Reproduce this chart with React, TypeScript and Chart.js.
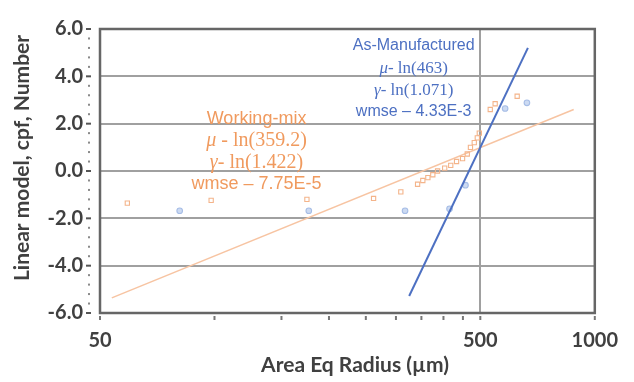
import React, { useEffect, useRef } from "react";
import { Chart, registerables } from "chart.js";

Chart.register(...registerables);

// ---------- data ----------
const xTickValues = [50, 100, 150, 200, 250, 300, 350, 400, 450, 500, 1000];
const xTickLabels = [50, 500, 1000];
const yTickValues = [-6, -4, -2, 0, 2, 4, 6];
const yMinorPerMajor = 5;

// Working-mix (orange squares)
const wmX = [59, 98, 175, 262, 309, 342, 353, 364, 375, 386, 403, 418, 433, 449, 462, 471, 482, 491, 497, 531, 547, 625];
const wmY = [-1.36, -1.24, -1.2, -1.16, -0.88, -0.56, -0.4, -0.28, -0.16, 0.0, 0.12, 0.24, 0.4, 0.52, 0.72, 1.0, 1.2, 1.4, 1.6, 2.6, 2.84, 3.16];
// Working-mix fit line end points
const wmFitX = [53.7, 880];
const wmFitY = [-5.36, 2.6];

// As-Manufactured (blue circles)
const amX = [81, 177, 317, 415, 457, 581, 663];
const amY = [-1.68, -1.68, -1.68, -1.6, -0.6, 2.64, 2.88];
// As-Manufactured fit line end points
const amFitX = [325, 667];
const amFitY = [-5.28, 5.2];

const xTitle = "Area Eq Radius (µm)";
const yTitle = "Linear model, cpf, Number";

const amText = [
  [{ t: "As-Manufactured", s: "sans" }],
  [{ t: "μ", s: "mathI" }, { t: "- ln(463)", s: "math" }],
  [{ t: "γ", s: "mathI" }, { t: "- ln(1.071)", s: "math" }],
  [{ t: "wmse – 4.33E-3", s: "sans" }],
];
const wmText = [
  [{ t: "Working-mix", s: "sans" }],
  [{ t: "μ", s: "mathI" }, { t: " - ln(359.2)", s: "math" }],
  [{ t: "γ", s: "mathI" }, { t: "- ln(1.422)", s: "math" }],
  [{ t: "wmse – 7.75E-5", s: "sans" }],
];

// ---------- styles ----------
const BLUE = "#4d70c2";
const ORANGE_TXT = "#f09a5e";
const AXIS_TXT = "#404040";
const GRID = "#a0a0a0";
const FRAME = "#666666";
const LABEL_FONT = "Lato";

const annotLayout = {
  am: { x: 334, ys: [5.28, 4.32, 3.4, 2.52], sans: 16, math: 17, color: BLUE },
  wm: { x: 129, ys: [2.2, 1.28, 0.36, -0.56], sans: 18, math: 20, color: ORANGE_TXT },
};

function fontFor(s: string, size: number) {
  if (s === "sans") return `${size}px 'Liberation Sans', Arial, sans-serif`;
  if (s === "mathI") return `italic ${size}px 'Liberation Serif', 'Times New Roman', serif`;
  return `${size}px 'Liberation Serif', 'Times New Roman', serif`;
}

function drawLines(ctx: CanvasRenderingContext2D, chart: any, lines: any[], lay: any) {
  const xs = chart.scales.x;
  const ys = chart.scales.y;
  const cx = xs.getPixelForValue(lay.x);
  ctx.fillStyle = lay.color;
  ctx.textBaseline = "middle";
  ctx.textAlign = "left";
  lines.forEach((parts: any[], i: number) => {
    const cy = ys.getPixelForValue(lay.ys[i]);
    let total = 0;
    const widths = parts.map((p) => {
      ctx.font = fontFor(p.s, p.s === "sans" ? lay.sans : lay.math);
      const w = ctx.measureText(p.t).width;
      total += w;
      return w;
    });
    let x = cx - total / 2;
    parts.forEach((p, j) => {
      ctx.font = fontFor(p.s, p.s === "sans" ? lay.sans : lay.math);
      ctx.fillText(p.t, x, cy);
      x += widths[j];
    });
  });
}

const decorPlugin = {
  id: "decor",
  beforeDatasetsDraw(chart: any) {
    const { ctx, chartArea: a } = chart;
    const ys = chart.scales.y;
    const xs = chart.scales.x;
    ctx.save();
    // grid lines
    ctx.strokeStyle = GRID;
    ctx.lineWidth = 2;
    yTickValues.forEach((v) => {
      if (v === -6 || v === 6) return;
      const y = Math.round(ys.getPixelForValue(v));
      ctx.beginPath();
      ctx.moveTo(a.left, y);
      ctx.lineTo(a.right, y);
      ctx.stroke();
    });
    const x500 = Math.round(xs.getPixelForValue(500));
    ctx.beginPath();
    ctx.moveTo(x500, a.top);
    ctx.lineTo(x500, a.bottom);
    ctx.stroke();
    // frame
    ctx.strokeStyle = FRAME;
    ctx.lineWidth = 2.5;
    ctx.strokeRect(a.left, a.top, a.right - a.left, a.bottom - a.top);
    // y tick marks (major dash, minor dots)
    for (let i = 0; i < yTickValues.length; i++) {
      const v = yTickValues[i];
      const y = ys.getPixelForValue(v);
      ctx.fillStyle = "#555";
      ctx.fillRect(a.left - 14, y - 1, 5, 2);
      if (i < yTickValues.length - 1) {
        const step = (yTickValues[i + 1] - v) / yMinorPerMajor;
        ctx.fillStyle = "#8a8a8a";
        for (let k = 1; k < yMinorPerMajor; k++) {
          const yy = ys.getPixelForValue(v + k * step);
          ctx.fillRect(a.left - 12, yy - 1, 2, 2);
        }
      }
    }
    // x tick marks
    ctx.fillStyle = "#777";
    xTickValues.forEach((v) => {
      const x = xs.getPixelForValue(v);
      ctx.fillRect(x - 1, a.bottom + 3, 2, 4);
    });
    ctx.restore();
  },
  afterDraw(chart: any) {
    const { ctx } = chart;
    ctx.save();
    drawLines(ctx, chart, amText, annotLayout.am);
    drawLines(ctx, chart, wmText, annotLayout.wm);
    // axis titles
    ctx.fillStyle = AXIS_TXT;
    ctx.font = `bold 21px ${LABEL_FONT}, sans-serif`;
    ctx.textAlign = "center";
    ctx.textBaseline = "middle";
    ctx.fillText(xTitle, 355, 365);
    ctx.translate(22, 158);
    ctx.rotate(-Math.PI / 2);
    ctx.fillText(yTitle, 0, 0);
    ctx.restore();
  },
};

export default function App() {
  const ref = useRef<HTMLCanvasElement>(null);
  useEffect(() => {
    document.body.style.margin = "0";
    const canvas = ref.current!;
    const chart = new Chart(canvas, {
      type: "scatter",
      data: {
        datasets: [
          {
            label: "As-Manufactured fit",
            data: amFitX.map((x, i) => ({ x, y: amFitY[i] })),
            showLine: true,
            borderColor: BLUE,
            borderWidth: 2,
            pointRadius: 0,
            order: 0,
          },
          {
            label: "Working-mix fit",
            data: wmFitX.map((x, i) => ({ x, y: wmFitY[i] })),
            showLine: true,
            borderColor: "#f7c4a2",
            borderWidth: 1.5,
            pointRadius: 0,
            order: 3,
          },
          {
            label: "Working-mix",
            data: wmX.map((x, i) => ({ x, y: wmY[i] })),
            pointStyle: "rect",
            pointRadius: 3,
            borderColor: "#f4b48a",
            backgroundColor: "rgba(255,255,255,0)",
            borderWidth: 1.1,
            order: 2,
          },
          {
            label: "As-Manufactured",
            data: amX.map((x, i) => ({ x, y: amY[i] })),
            pointStyle: "circle",
            pointRadius: 2.8,
            borderColor: "#a6bde6",
            backgroundColor: "#ccdaf2",
            borderWidth: 1.1,
            order: 1,
          },
        ],
      },
      options: {
        responsive: false,
        animation: false,
        events: [],
        layout: { padding: { top: 13, right: 34, left: 0, bottom: 0 } },
        plugins: { legend: { display: false }, tooltip: { enabled: false } },
        scales: {
          x: {
            type: "logarithmic",
            min: 50,
            max: 1000,
            afterBuildTicks: (s: any) => {
              s.ticks = xTickValues.map((v) => ({ value: v }));
            },
            afterFit: (s: any) => {
              s.height = 69;
            },
            ticks: {
              autoSkip: false,
              maxRotation: 0,
              padding: 16,
              color: AXIS_TXT,
              font: { family: LABEL_FONT, size: 20, weight: "bold" },
              callback: (v: any) => (xTickLabels.includes(Number(v)) ? String(v) : ""),
            },
            grid: { display: false, drawTicks: false },
            border: { display: false },
          },
          y: {
            min: -6,
            max: 6,
            afterBuildTicks: (s: any) => {
              s.ticks = yTickValues.map((v) => ({ value: v }));
            },
            afterFit: (s: any) => {
              s.width = 100;
            },
            ticks: {
              autoSkip: false,
              padding: 17,
              color: AXIS_TXT,
              font: { family: LABEL_FONT, size: 20, weight: "bold" },
              callback: (v: any) => Number(v).toFixed(1),
            },
            grid: { display: false, drawTicks: false },
            border: { display: false },
          },
        },
      },
      plugins: [decorPlugin],
    } as any);
    return () => chart.destroy();
  }, []);
  return (
    <div style={{ width: 634, height: 382, background: "#fff" }}>
      <canvas ref={ref} width={634} height={382} style={{ display: "block" }} />
    </div>
  );
}
